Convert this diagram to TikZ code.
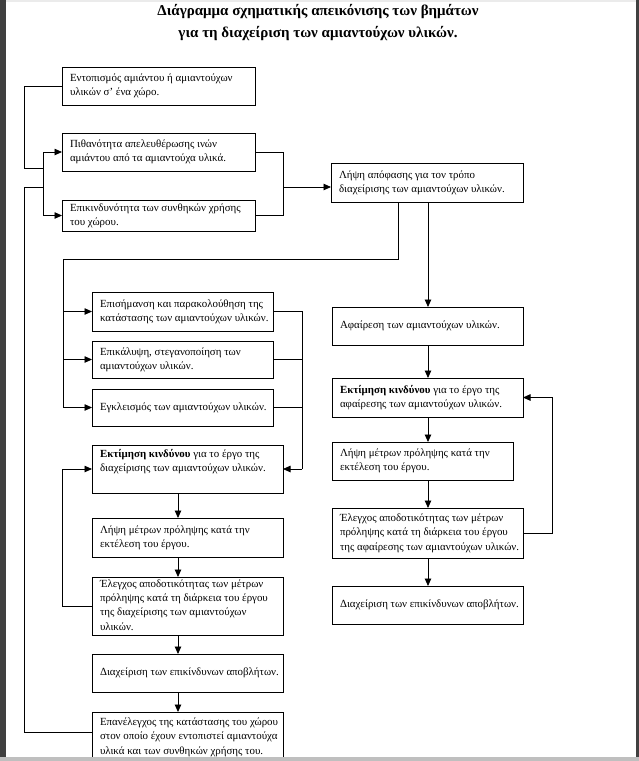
\documentclass[tikz,border=0pt]{standalone}
\usepackage{fontspec}
\setmainfont{Liberation Serif}
\usetikzlibrary{arrows.meta,calc}
\newcommand{\bt}[2]{\makebox[#1][l]{\begin{tabular}{@{}l@{}}#2\end{tabular}}}
\begin{document}
\begin{tikzpicture}[x=1pt,y=-1pt,
  box/.style={draw, line width=0.9pt, anchor=north west, inner xsep=8pt, inner ysep=0pt, outer sep=0pt, font=\fontsize{10.9}{14.2}\selectfont},
  ln/.style={line width=0.85pt},
  arr/.style={line width=0.85pt, -{Triangle[length=7.5pt,width=6.5pt]}},
  ttl/.style={font=\fontsize{15}{16}\selectfont\bfseries, inner sep=0pt}]
\clip (0,0) rectangle (639,761);
\fill[white] (0,0) rectangle (639,761);
% title
\node[ttl] (t1) at (318,12) {Διάγραμμα σχηματικής απεικόνισης των βημάτων};
\node[ttl] (t2) at (318,34) {για τη διαχείριση των αμιαντούχων υλικών.};
% top-left group
\node[box, minimum height=38pt] (A) at (62,67) {\bt{177pt}{Εντοπισμός αμιάντου ή αμιαντούχων\\ υλικών σ’ ένα χώρο.}};
\node[box, minimum height=38pt] (B) at (62,133) {\bt{177pt}{Πιθανότητα απελευθέρωσης ινών\\ αμιάντου από τα αμιαντούχα υλικά.}};
\node[box, minimum height=31pt] (C) at (62,200) {\bt{177pt}{Επικινδυνότητα των συνθηκών χρήσης\\ του χώρου.}};
\node[box, minimum height=39pt] (D) at (331,163) {\bt{176pt}{Λήψη απόφασης για τον τρόπο\\ διαχείρισης των αμιαντούχων υλικών.}};
% left column
\node[box, minimum height=39pt] (F1) at (92,292) {\bt{165pt}{Επισήμανση και παρακολούθηση της\\ κατάστασης των αμιαντούχων υλικών.}};
\node[box, minimum height=37pt] (F2) at (92,341) {\bt{165pt}{Επικάλυψη, στεγανοποίηση των\\ αμιαντούχων υλικών.}};
\node[box, minimum height=37pt] (F3) at (92,389) {\bt{165pt}{Εγκλεισμός των αμιαντούχων υλικών.}};
\node[box, minimum height=48pt] (G) at (92,445) {\bt{175pt}{\textbf{Εκτίμηση κινδύνου} για το έργο της\\ διαχείρισης των αμιαντούχων υλικών.\\ {}}};
\node[box, minimum height=39pt] (H) at (92,518) {\bt{175pt}{Λήψη μέτρων πρόληψης κατά την\\ εκτέλεση του έργου.}};
\node[box, minimum height=58pt] (I) at (92,577) {\bt{175pt}{Έλεγχος αποδοτικότητας των μέτρων\\ πρόληψης κατά τη διάρκεια του έργου\\ της διαχείρισης των αμιαντούχων\\ υλικών.}};
\node[box, minimum height=38pt] (J) at (92,654) {\bt{175pt}{Διαχείριση των επικίνδυνων αποβλήτων.}};
\node[box, minimum height=50pt] (K) at (92,712) {\bt{175pt}{Επανέλεγχος της κατάστασης του χώρου\\ στον οποίο έχουν εντοπιστεί αμιαντούχα\\ υλικά και των συνθηκών χρήσης του.}};
% right column
\node[box, minimum height=38pt] (E) at (332,307) {\bt{175pt}{Αφαίρεση των αμιαντούχων υλικών.}};
\node[box, minimum height=39pt] (L) at (332,378) {\bt{175pt}{\textbf{Εκτίμηση κινδύνου} για το έργο της\\ αφαίρεσης των αμιαντούχων υλικών.}};
\node[box, minimum height=38pt] (M) at (332,442) {\bt{165pt}{Λήψη μέτρων πρόληψης κατά την\\ εκτέλεση του έργου.}};
\node[box, minimum height=50pt] (N) at (332,508) {\bt{175pt}{Έλεγχος αποδοτικότητας των μέτρων\\ πρόληψης κατά τη διάρκεια του έργου\\ της αφαίρεσης των αμιαντούχων υλικών.}};
\node[box, minimum height=38pt] (O) at (332,586) {\bt{175pt}{Διαχείριση των επικίνδυνων αποβλήτων.}};
% helper coordinates
\coordinate (xl) at (24,0);
\coordinate (bl) at (43,0);
\coordinate (br) at (283,0);
\coordinate (d1) at (398,259);
\coordinate (d2) at (63,259);
\coordinate (fr) at (302,0);
\coordinate (ax) at (178,0);
\coordinate (lp) at (62,0);
\coordinate (rx) at (428,0);
\coordinate (rl) at (552,0);
\coordinate (j1) at (43,168);
\coordinate (j2) at (43,187);
\coordinate (m1) at (283,187);
\coordinate (kp) at ($(K.north west)+(0,20)$);
% left inputs
\draw[ln] (A.west) -| (xl |- j1) -- (j1);
\draw[ln] (kp) -- (xl |- kp) -- (xl |- j2) -- (j2);
\draw[ln] (bl |- B.west) -- (bl |- C.west);
\draw[arr] (bl |- B.west) -- (B.west);
\draw[arr] (bl |- C.west) -- (C.west);
% right merge
\draw[ln] (B.east) -- (br |- B.east) -- (br |- C.east) -- (C.east);
\draw[arr] (m1) -- (D.west |- m1);
% decision outputs
\draw[ln] (d1 |- D.south) -- (d1) -- (d2) -- (d2 |- F3.west);
\draw[arr] (d2 |- F1.west) -- (F1.west);
\draw[arr] (d2 |- F2.west) -- (F2.west);
\draw[arr] (d2 |- F3.west) -- (F3.west);
\draw[arr] (rx |- D.south) -- (rx |- E.north);
% F merge
\draw[ln] (F1.east) -- (fr |- F1.east) -- (fr |- G.east);
\draw[ln] (F2.east) -- (fr |- F2.east);
\draw[ln] (F3.east) -- (fr |- F3.east);
\draw[arr] (fr |- G.east) -- (G.east);
% left chain
\draw[arr] (ax |- G.south) -- (ax |- H.north);
\draw[arr] (ax |- H.south) -- (ax |- I.north);
\draw[arr] (ax |- I.south) -- (ax |- J.north);
\draw[arr] (ax |- J.south) -- (ax |- K.north);
\draw[arr] (I.west) -- (lp |- I.west) -- (lp |- G.west) -- (G.west);
% right chain
\draw[arr] (rx |- E.south) -- (rx |- L.north);
\draw[arr] (rx |- L.south) -- (rx |- M.north);
\draw[arr] (rx |- M.south) -- (rx |- N.north);
\draw[arr] (rx |- N.south) -- (rx |- O.north);
\draw[arr] (N.east) -- (rl |- N.east) -- (rl |- L.east) -- (L.east);
% screenshot frame
\fill[black!75] (0,0) rectangle (6,761);
\fill[black!75] (636,0) rectangle (639,761);
\fill[black!25] (0,757) rectangle (639,761);
\fill[black!8] (6,0) rectangle (636,2);
\end{tikzpicture}
\end{document}
